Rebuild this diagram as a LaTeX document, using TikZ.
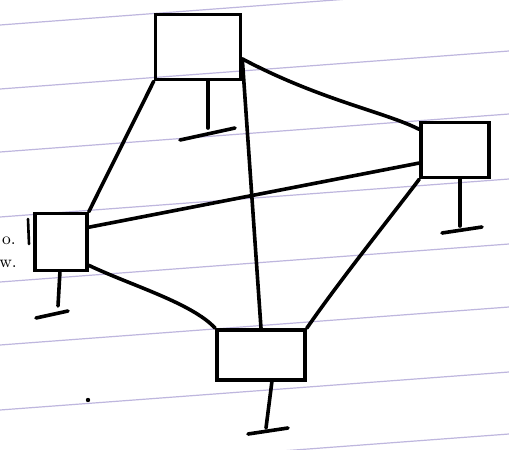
\documentclass[tikz,border=0pt]{standalone}
\usetikzlibrary{calc}
\definecolor{ruling}{RGB}{190,182,222}
\tikzset{
  box/.style={draw, line width=1.8pt, rectangle, inner sep=0pt},
  wire/.style={line width=1.8pt, line cap=round, line join=round},
  thin wire/.style={line width=1.3pt, line cap=round},
  rule/.style={draw=ruling, line width=0.6pt},
  hand/.style={font=\fontsize{8.5}{8.5}\selectfont, inner sep=0pt}
}
\begin{document}
\begin{tikzpicture}[x=0.5pt,y=-0.5pt]
\useasboundingbox (0,0) rectangle (509,450);
\fill[white] (0,0) rectangle (509,450);
% ruled paper
\foreach \y in {25,89,152,217,282,345,410,472} {
  \draw[rule] (0,\y) -- (509,\y-38);
}
% boxes
\node[box, minimum width=42.5pt, minimum height=32.5pt] (T) at (198,47) {};
\node[box, minimum width=34pt, minimum height=27.5pt] (R) at (455,150) {};
\node[box, minimum width=26pt, minimum height=28.5pt] (L) at (61,242) {};
\node[box, minimum width=44pt, minimum height=25pt] (B) at (261,355) {};
% connectors
\draw[wire] (T.south west) -- (L.north east);
\draw[wire] (T.-15) -- (B.north);
\draw[wire] (T.-15) .. controls (320,100) and (385,112) .. (R.150);
\draw[wire] (L.28) -- (R.200);
\draw[wire] (L.-40) .. controls (130,285) and (192,303) .. (B.north west);
\draw[wire] (R.south west) .. controls (400,205) and (340,280) .. (B.north east);
% ground stubs
\coordinate (tg) at (208,128);
\coordinate (rg) at (460,226);
\coordinate (lg) at (58,306);
\coordinate (bg) at (266,428);
\draw[wire] (208,80) -- (tg);
\draw[wire] (180,140) -- (235,128);
\draw[wire] (460,178) -- (rg);
\draw[wire] (442,233) -- (482,227);
\draw[wire] (60,271) -- (lg);
\draw[wire] (36,318) -- (68,311);
\draw[wire] (272,381) -- (bg);
\draw[wire] (248,434) -- (288,428);
% margin marks
\draw[thin wire] (28,219) -- (29,244);
\node[hand] (m1) at (9,241) {o.};
\node[hand] (m2) at (8,264) {w.};
\fill (88,400) circle (2.2);
\end{tikzpicture}
\end{document}
